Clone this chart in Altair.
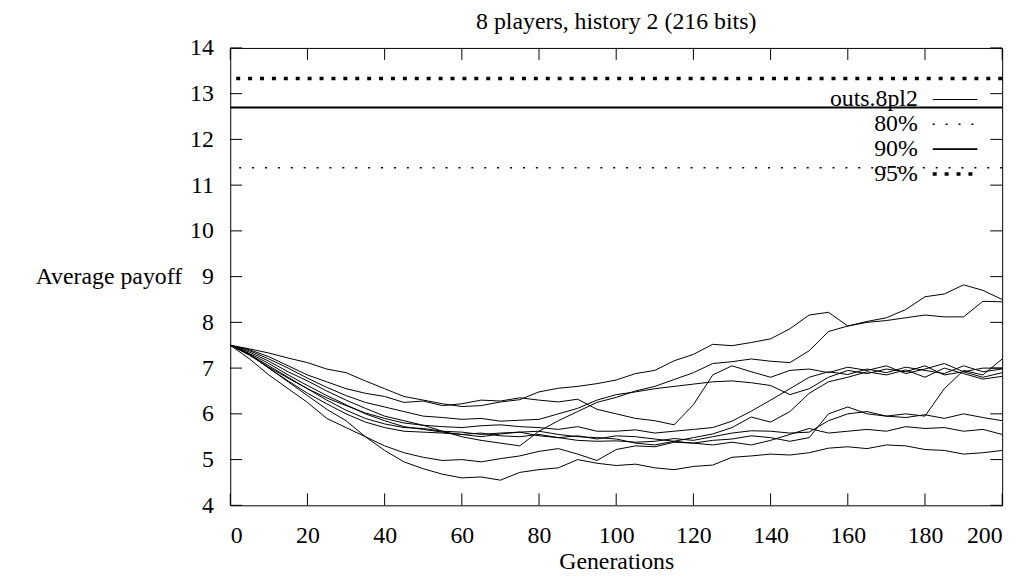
import altair as alt
import pandas as pd

FONT = "Liberation Serif"
FS = 24

gens = list(range(0, 201, 5))

line_a = [7.50,7.42,7.33,7.22,7.12,6.98,6.90,6.72,6.55,6.38, 6.30,6.22,6.16,6.18,6.26,6.31,6.48,6.56,6.60,6.66, 6.74,6.88,6.95,7.16,7.30,7.52,7.49,7.56,7.64,7.86, 8.16,8.22,7.92,8.02,8.10,8.28,8.56,8.62,8.82,8.70, 8.50]
line_b = [7.50,7.35,7.15,6.92,6.72,6.50,6.30,6.12,5.95,5.85, 5.75,5.62,5.50,5.42,5.36,5.30,5.62,5.85,6.05,6.25, 6.36,6.50,6.60,6.75,6.90,7.10,7.14,7.20,7.15,7.12, 7.38,7.80,7.92,8.00,8.04,8.10,8.16,8.12,8.12,8.46, 8.45]
line_c = [7.50,7.40,7.25,7.05,6.85,6.70,6.55,6.45,6.38,6.25, 6.28,6.18,6.22,6.30,6.28,6.35,6.30,6.26,6.32,6.10, 6.00,5.90,5.85,5.76,6.20,6.85,7.05,6.92,6.80,6.95, 6.98,6.90,7.02,6.95,7.05,6.88,6.98,7.10,6.92,7.00, 7.00]
line_d = [7.50,7.38,7.20,7.00,6.78,6.58,6.40,6.25,6.15,6.05, 5.95,5.92,5.88,5.90,5.84,5.86,5.88,6.00,6.12,6.30, 6.42,6.48,6.55,6.60,6.65,6.70,6.72,6.68,6.62,6.42, 6.55,6.80,6.95,6.88,6.98,6.92,7.05,6.85,6.92,6.80, 6.90]
line_e = [7.50,7.30,7.05,6.80,6.55,6.35,6.18,6.02,5.90,5.80, 5.75,5.72,5.70,5.74,5.76,5.72,5.70,5.66,5.72,5.62, 5.62,5.65,5.58,5.62,5.66,5.70,5.84,6.06,6.30,6.55, 6.80,6.92,6.86,6.98,6.90,7.02,6.95,6.88,7.05,6.92, 6.98]
line_f = [7.50,7.32,7.10,6.85,6.62,6.40,6.20,6.00,5.85,5.72, 5.66,5.60,5.55,5.58,5.52,5.50,5.55,5.48,5.52,5.45, 5.52,5.50,5.45,5.40,5.48,5.56,5.70,5.93,5.82,6.05, 6.45,6.70,6.80,6.92,6.85,6.96,6.80,7.00,6.88,6.76, 6.82]
line_g = [7.50,7.28,7.02,6.78,6.55,6.30,6.08,5.90,5.78,5.70, 5.68,5.62,5.60,5.55,5.58,5.60,5.52,5.48,5.42,5.40, 5.41,5.38,5.40,5.46,5.42,5.50,5.58,5.63,5.62,5.58, 5.60,5.85,6.00,6.05,5.95,6.00,5.95,6.55,6.95,6.85, 7.20]
line_h = [7.50,7.30,7.00,6.72,6.45,6.22,6.00,5.82,5.70,5.62, 5.60,5.58,5.55,5.50,5.56,5.60,5.62,5.55,5.50,5.48, 5.45,5.36,5.32,5.40,5.36,5.42,5.45,5.52,5.48,5.40, 5.48,6.00,6.15,6.00,5.95,5.92,5.98,5.90,6.00,5.92, 5.85]
line_k = [7.50,7.30,7.00,6.70,6.40,6.10,5.85,5.50,5.30,5.15, 5.05,4.98,5.00,4.95,5.02,5.08,5.18,5.24,5.12,4.98, 5.22,5.30,5.28,5.38,5.36,5.32,5.38,5.32,5.42,5.55, 5.68,5.58,5.62,5.66,5.62,5.72,5.68,5.70,5.62,5.66, 5.55]
line_i = [7.50,7.20,6.85,6.55,6.25,5.90,5.70,5.50,5.20,4.95, 4.80,4.68,4.60,4.62,4.55,4.72,4.78,4.82,5.00,4.92, 4.87,4.90,4.82,4.78,4.85,4.88,5.05,5.08,5.12,5.10, 5.15,5.25,5.28,5.24,5.32,5.30,5.22,5.20,5.12,5.15, 5.20]

runs = {"a": line_a, "b": line_b, "c": line_c, "d": line_d, "e": line_e,
        "f": line_f, "g": line_g, "h": line_h, "k": line_k, "i": line_i}

ref_names = ["80%", "90%", "95%"]
ref_values = [11.38, 12.70, 13.33]

legend_labels = ["outs.8pl2", "80%", "90%", "95%"]
title_text = "8 players, history 2 (216 bits)"

x_ticks = list(range(0, 201, 20))
y_ticks = list(range(4, 15))

W, H = 778, 461

rows = []
for name, vals in runs.items():
    for g, v in zip(gens, vals):
        rows.append({"gen": g, "value": v, "run": name})
df = pd.DataFrame(rows)

x_scale = alt.Scale(domain=[0, 200], nice=False, zero=False)
y_scale = alt.Scale(domain=[4, 14], nice=False, zero=False)

x_enc = alt.X("gen:Q", scale=x_scale,
              axis=alt.Axis(values=x_ticks, title="Generations", titleY=57,
                            titleBaseline="middle", labelPadding=18))
y_enc = alt.Y("value:Q", scale=y_scale,
              axis=alt.Axis(values=y_ticks, title="Average payoff", titleAngle=0,
                            titleAlign="right", titleX=-49, titleY=H / 2,
                            titleBaseline="middle", labelPadding=17))

lines = alt.Chart(df).mark_line(color="black", strokeWidth=1).encode(
    x=x_enc, y=y_enc, detail="run:N")

ref_df = pd.DataFrame({"name": ref_names, "value": ref_values})
ref_styles = {
    "80%": dict(strokeWidth=1.5, strokeDash=[2, 11]),
    "90%": dict(strokeWidth=2),
    "95%": dict(strokeWidth=3.5, strokeDash=[4, 8]),
}
ref_layers = []
for nm in ref_names:
    ref_layers.append(
        alt.Chart(ref_df[ref_df["name"] == nm]).mark_rule(color="black", **ref_styles[nm]).encode(
            y=alt.Y("value:Q", scale=y_scale))
    )

xt = pd.DataFrame({"gen": x_ticks})
yt = pd.DataFrame({"value": y_ticks})
TL = 12
ticks = [
    alt.Chart(xt).mark_rule(color="black").encode(
        x=alt.X("gen:Q", scale=x_scale), y=alt.value(H), y2=alt.value(H - TL)),
    alt.Chart(xt).mark_rule(color="black").encode(
        x=alt.X("gen:Q", scale=x_scale), y=alt.value(0), y2=alt.value(TL)),
    alt.Chart(yt).mark_rule(color="black").encode(
        y=alt.Y("value:Q", scale=y_scale), x=alt.value(0), x2=alt.value(TL)),
    alt.Chart(yt).mark_rule(color="black").encode(
        y=alt.Y("value:Q", scale=y_scale), x=alt.value(W), x2=alt.value(W - TL)),
]

leg_styles = [
    dict(strokeWidth=1),
    dict(strokeWidth=1.5, strokeDash=[2, 11]),
    dict(strokeWidth=2),
    dict(strokeWidth=3.5, strokeDash=[4, 8]),
]
legend_layers = []
for i, lab in enumerate(legend_labels):
    ly = 52 + 25 * i
    ldf = pd.DataFrame({"label": [lab]})
    legend_layers.append(
        alt.Chart(ldf).mark_text(align="right", baseline="middle", font=FONT, fontSize=FS,
                                 color="black").encode(
            text="label:N", x=alt.value(693), y=alt.value(ly)))
    legend_layers.append(
        alt.Chart(ldf).mark_rule(color="black", **leg_styles[i]).encode(
            x=alt.value(708), x2=alt.value(753), y=alt.value(ly)))

title_layer = alt.Chart(pd.DataFrame({"t": [title_text]})).mark_text(
    align="center", baseline="middle", font=FONT, fontSize=FS, color="black").encode(
    text="t:N", x=alt.value(W / 2), y=alt.value(-26))

chart = alt.layer(*ref_layers, lines, *ticks, *legend_layers, title_layer).properties(
    width=W, height=H,
    autosize=alt.AutoSizeParams(type="none"),
    padding={"left": 224, "top": 38, "right": 22, "bottom": 70},
    background="white",
).configure_view(stroke="black", strokeWidth=1).configure_axis(
    domain=False, ticks=False, grid=False, labelFont=FONT, labelFontSize=FS,
    labelColor="black", titleFont=FONT, titleFontSize=FS, titleFontWeight="normal",
    titleColor="black",
)

chart.save("out.html", embed_options={"renderer": "svg", "actions": False})
